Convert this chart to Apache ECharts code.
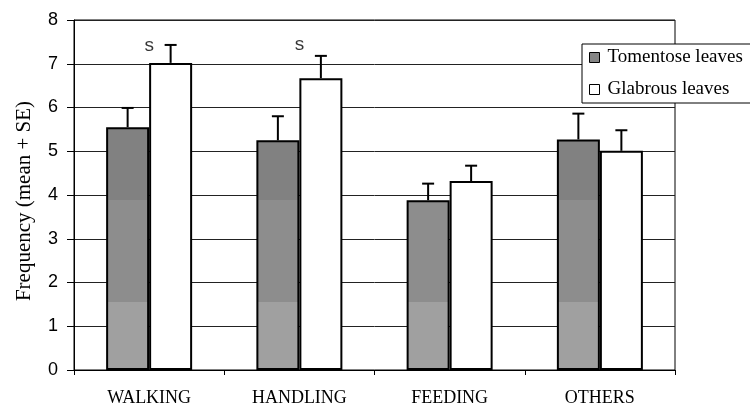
<!DOCTYPE html>
<html>
<head>
<meta charset="utf-8">
<title>Behaviour frequency on tomentose and glabrous leaves</title>
<script src="https://cdn.jsdelivr.net/npm/echarts@6/dist/echarts.min.js"></script>
<style>
  html, body { margin: 0; padding: 0; background: #fff; }
  #chart { width: 750px; height: 407px; }
</style>
</head>
<body>
<div id="chart"></div>
<script>
// Behaviour categories
const categories = ['WALKING', 'HANDLING', 'FEEDING', 'OTHERS'];

// Mean frequencies
const tomentoseMean = [5.55, 5.25, 3.88, 5.27];
const glabrousMean = [7.02, 6.67, 4.32, 5.01];

// Standard errors (drawn upward only)
const tomentoseSE = [0.44, 0.55, 0.38, 0.59];
const glabrousSE = [0.41, 0.51, 0.35, 0.47];

// Significance marks: category and height of the mark
const signifCategories = ['WALKING', 'HANDLING'];
const signifHeights = [7.42, 7.44];
const signifText = 's';

// Y axis ticks
const yMin = 0, yMax = 8, yStep = 1;

const BAR_W = 43;
const serif = '"Liberation Serif", "DejaVu Serif", serif';
const sans = '"Liberation Sans", Arial, sans-serif';

// Halftone-like gray for the tomentose bars, banded in screen space
const tomentoseFill = {
  type: 'linear', x: 0, y: 20, x2: 0, y2: 372, global: true,
  colorStops: [
    { offset: 0, color: '#818181' },
    { offset: 0.511, color: '#818181' },
    { offset: 0.512, color: '#8d8d8d' },
    { offset: 0.80, color: '#8d8d8d' },
    { offset: 0.801, color: '#a0a0a0' },
    { offset: 1, color: '#a0a0a0' }
  ]
};

function errorBars(offset) {
  return function (params, api) {
    const i = api.value(0), v = api.value(1), se = api.value(2);
    const base = api.coord([i, v]);
    const top = api.coord([i, v + se]);
    const cx = base[0] + offset;
    const st = { stroke: '#000', lineWidth: 2 };
    return {
      type: 'group',
      children: [
        { type: 'line', shape: { x1: cx, y1: base[1], x2: cx, y2: top[1] }, style: st },
        { type: 'line', shape: { x1: cx - 6, y1: top[1], x2: cx + 6, y2: top[1] }, style: st }
      ]
    };
  };
}

const chart = echarts.init(document.getElementById('chart'), null, { renderer: 'canvas' });

chart.setOption({
  animation: false,
  backgroundColor: '#fff',
  grid: {
    left: 74, right: 75, top: 20, bottom: 35,
    show: true, borderColor: '#000', borderWidth: 1, backgroundColor: 'transparent'
  },
  legend: {
    orient: 'vertical',
    left: 582, top: 44,
    padding: [4, 10, 4, 7],
    itemWidth: 10, itemHeight: 10, itemGap: 13,
    backgroundColor: '#fff', borderColor: '#000', borderWidth: 1,
    selectedMode: false,
    icon: 'rect',
    textStyle: { fontFamily: serif, fontSize: 19, color: '#000', padding: [0, 0, 0, 3] },
    data: [
      { name: 'Tomentose leaves', itemStyle: { color: '#858585', borderColor: '#000', borderWidth: 1 } },
      { name: 'Glabrous leaves', itemStyle: { color: '#fff', borderColor: '#000', borderWidth: 1 } }
    ]
  },
  xAxis: {
    type: 'category',
    data: categories,
    axisLine: { lineStyle: { color: '#000', width: 1 } },
    axisTick: { show: true, length: 5, lineStyle: { color: '#000' } },
    axisLabel: { fontFamily: serif, fontSize: 18, color: '#000', margin: 19 }
  },
  yAxis: {
    type: 'value',
    min: yMin, max: yMax, interval: yStep,
    name: 'Frequency (mean + SE)',
    nameLocation: 'middle',
    nameRotate: 90,
    nameGap: 39,
    nameTextStyle: { fontFamily: serif, fontSize: 21, color: '#000', padding: [0, 12, 0, 0] },
    axisLine: { show: true, lineStyle: { color: '#000', width: 1 } },
    axisTick: { show: true, length: 7, lineStyle: { color: '#000' } },
    axisLabel: { fontFamily: sans, fontSize: 18, color: '#000', margin: 16 },
    splitLine: { show: true, lineStyle: { color: '#222', width: 1 } }
  },
  series: [
    {
      name: 'Tomentose leaves',
      type: 'bar',
      data: tomentoseMean,
      barWidth: BAR_W,
      barGap: '0%',
      itemStyle: { color: tomentoseFill, borderColor: '#000', borderWidth: 2 },
      z: 2
    },
    {
      name: 'Glabrous leaves',
      type: 'bar',
      data: glabrousMean,
      barWidth: BAR_W,
      barGap: '0%',
      itemStyle: { color: '#fff', borderColor: '#000', borderWidth: 2 },
      z: 2
    },
    {
      name: 'Tomentose SE',
      type: 'custom',
      renderItem: errorBars(-BAR_W / 2),
      data: tomentoseMean.map((m, i) => [i, m, tomentoseSE[i]]),
      encode: { x: 0, y: [1] },
      z: 3,
      silent: true
    },
    {
      name: 'Glabrous SE',
      type: 'custom',
      renderItem: errorBars(BAR_W / 2),
      data: glabrousMean.map((m, i) => [i, m, glabrousSE[i]]),
      encode: { x: 0, y: [1] },
      z: 3,
      silent: true
    },
    {
      name: 'Significance',
      type: 'scatter',
      symbolSize: 0,
      data: signifCategories.map((c, i) => [c, signifHeights[i]]),
      label: {
        show: true, position: 'inside', formatter: signifText,
        fontFamily: sans, fontSize: 19, color: '#000'
      },
      z: 4,
      silent: true
    }
  ]
});
</script>
</body>
</html>
